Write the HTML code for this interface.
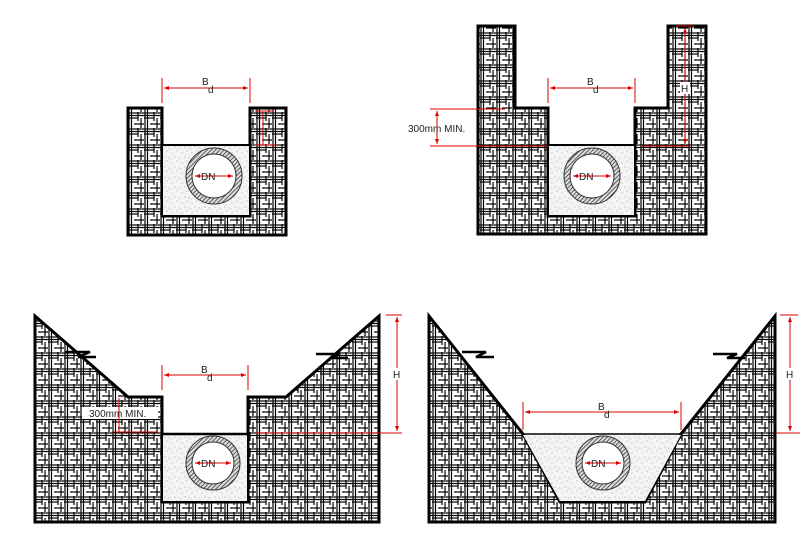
<!DOCTYPE html>
<html><head><meta charset="utf-8"><style>
html,body{margin:0;padding:0;background:#fff;}
svg{display:block;}
text{font-family:"Liberation Sans",sans-serif;font-size:10px;fill:#222;}
</style></head><body>
<svg width="807" height="553" viewBox="0 0 807 553" xmlns="http://www.w3.org/2000/svg">
<defs>
<pattern id="h" width="16" height="16" patternUnits="userSpaceOnUse">
<rect width="16" height="16" fill="#fff"/>
<g stroke="#000" stroke-width="1.2">
<line x1="0" y1="1" x2="16" y2="1"/><line x1="0" y1="3.5" x2="16" y2="3.5"/><line x1="0" y1="6" x2="10" y2="6"/><line x1="6" y1="12" x2="16" y2="12"/>
<line x1="1" y1="0" x2="1" y2="16"/><line x1="3.5" y1="0" x2="3.5" y2="16"/><line x1="10" y1="0" x2="10" y2="9"/><line x1="13" y1="6" x2="13" y2="16"/>
</g>
</pattern>
<pattern id="d" width="10" height="10" patternUnits="userSpaceOnUse">
<rect width="10" height="10" fill="#f4f4f4"/>
<g fill="#888"><circle cx="2" cy="3" r=".5"/><circle cx="7" cy="1" r=".5"/><circle cx="5" cy="7" r=".5"/><circle cx="9" cy="8" r=".5"/><circle cx="1" cy="9" r=".4"/></g>
</pattern>
<pattern id="p" width="3" height="3" patternUnits="userSpaceOnUse" patternTransform="rotate(45)">
<rect width="3" height="3" fill="#ddd"/><line x1="0" y1="0" x2="0" y2="3" stroke="#333" stroke-width="1.5"/>
</pattern>
<marker id="a" markerWidth="6" markerHeight="6" refX="5" refY="3" orient="auto-start-reverse"><path d="M0,1 L5,3 L0,5z" fill="#d00"/></marker>
</defs>

<!-- Diagram 1 -->
<path d="M128,108 H162 V216 H250 V108 H286 V235 H128 Z" fill="url(#h)" stroke="#000" stroke-width="3"/>
<rect x="163" y="146" width="86" height="69" fill="url(#d)"/>
<line x1="162" y1="145" x2="250" y2="145" stroke="#000" stroke-width="2"/>
<circle cx="214" cy="176" r="28" fill="url(#p)" stroke="#333"/>
<circle cx="214" cy="176" r="22" fill="#fff" stroke="#333"/>
<g stroke="#d00" stroke-width="1" fill="none">
<line x1="162" y1="78" x2="162" y2="103"/><line x1="250" y1="78" x2="250" y2="103"/>
<line x1="164" y1="88" x2="248" y2="88" marker-start="url(#a)" marker-end="url(#a)"/>
<line x1="195" y1="176" x2="233" y2="176" marker-start="url(#a)" marker-end="url(#a)"/>
<line x1="255" y1="111" x2="273" y2="111"/><line x1="263" y1="112" x2="263" y2="145"/><line x1="255" y1="145" x2="277" y2="145"/>
</g>
<text x="202" y="85">B</text><text x="208" y="93" font-size="8">d</text>
<text x="201" y="180">DN</text>

<!-- Diagram 2 -->
<path d="M478,26 H515 V108 H548 V216 H635 V108 H668 V26 H706 V234 H478 Z" fill="url(#h)" stroke="#000" stroke-width="3"/>
<rect x="549" y="146" width="85" height="69" fill="url(#d)"/>
<line x1="548" y1="145" x2="635" y2="145" stroke="#000" stroke-width="2"/>
<circle cx="592" cy="176" r="28" fill="url(#p)" stroke="#333"/>
<circle cx="592" cy="176" r="22" fill="#fff" stroke="#333"/>
<g stroke="#d00" stroke-width="1" fill="none">
<line x1="548" y1="78" x2="548" y2="103"/><line x1="635" y1="78" x2="635" y2="103"/>
<line x1="550" y1="88" x2="633" y2="88" marker-start="url(#a)" marker-end="url(#a)"/>
<line x1="573" y1="176" x2="611" y2="176" marker-start="url(#a)" marker-end="url(#a)"/>
<line x1="430" y1="109" x2="505" y2="109"/><line x1="430" y1="146" x2="548" y2="146"/>
<line x1="437" y1="111" x2="437" y2="144" marker-start="url(#a)" marker-end="url(#a)"/>
<line x1="642" y1="146" x2="690" y2="146"/>
<line x1="676" y1="26" x2="694" y2="26"/><line x1="685" y1="28" x2="685" y2="144" marker-start="url(#a)" marker-end="url(#a)"/>
</g>
<rect x="680" y="82" width="10" height="12" fill="#fff"/>
<text x="681" y="92">H</text>
<text x="587" y="85">B</text><text x="593" y="93" font-size="8">d</text>
<text x="579" y="180">DN</text>
<text x="408" y="132">300mm MIN.</text>

<!-- Diagram 3 -->
<path d="M35,316 L128,397 H162 V502 H248 V397 H286 L379,316 V522 H35 Z" fill="url(#h)" stroke="#000" stroke-width="3"/>
<rect x="163" y="435" width="84" height="66" fill="url(#d)"/>
<line x1="162" y1="434" x2="248" y2="434" stroke="#000" stroke-width="2.5"/>
<circle cx="213" cy="463" r="27" fill="url(#p)" stroke="#333"/>
<circle cx="213" cy="463" r="21" fill="#fff" stroke="#333"/>
<g stroke="#000" stroke-width="2.5" fill="none">
<path d="M65,352 H90 L78,357 H96"/><path d="M316,354 H340 L330,358 H348"/>
</g>
<rect x="82" y="407" width="76" height="12" fill="#fff"/>
<g stroke="#d00" stroke-width="1" fill="none">
<line x1="162" y1="365" x2="162" y2="390"/><line x1="248" y1="365" x2="248" y2="390"/>
<line x1="164" y1="375" x2="246" y2="375" marker-start="url(#a)" marker-end="url(#a)"/>
<line x1="195" y1="463" x2="231" y2="463" marker-start="url(#a)" marker-end="url(#a)"/>
<line x1="119" y1="398" x2="119" y2="432"/><line x1="113" y1="432" x2="158" y2="432"/>
<line x1="256" y1="433" x2="380" y2="433"/><line x1="380" y1="433" x2="402" y2="433"/>
<line x1="386" y1="315" x2="402" y2="315"/><line x1="397" y1="317" x2="397" y2="431" marker-start="url(#a)" marker-end="url(#a)"/>
</g>
<rect x="392" y="368" width="10" height="12" fill="#fff"/>
<text x="393" y="378">H</text>
<text x="201" y="373">B</text><text x="207" y="381" font-size="8">d</text>
<text x="201" y="467">DN</text>
<text x="89" y="417">300mm MIN.</text>

<!-- Diagram 4 -->
<path d="M429,316 L523,434 L560,502 H645 L681,434 L775,316 V522 H429 Z" fill="url(#h)" stroke="#000" stroke-width="3"/>
<path d="M523,435 H681 L645,501 H560 Z" fill="url(#d)"/>
<line x1="523" y1="434" x2="681" y2="434" stroke="#000" stroke-width="1.5"/>
<circle cx="603" cy="463" r="27" fill="url(#p)" stroke="#333"/>
<circle cx="603" cy="463" r="21" fill="#fff" stroke="#333"/>
<g stroke="#000" stroke-width="2.5" fill="none">
<path d="M462,352 H486 L476,357 H494"/><path d="M713,354 H737 L727,358 H745"/>
</g>
<g stroke="#d00" stroke-width="1" fill="none">
<line x1="523" y1="402" x2="523" y2="430"/><line x1="681" y1="402" x2="681" y2="430"/>
<line x1="525" y1="412" x2="679" y2="412" marker-start="url(#a)" marker-end="url(#a)"/>
<line x1="585" y1="463" x2="621" y2="463" marker-start="url(#a)" marker-end="url(#a)"/>
<line x1="776" y1="433" x2="800" y2="433"/>
<line x1="780" y1="315" x2="798" y2="315"/><line x1="790" y1="317" x2="790" y2="431" marker-start="url(#a)" marker-end="url(#a)"/>
</g>
<rect x="785" y="368" width="10" height="12" fill="#fff"/>
<text x="786" y="378">H</text>
<text x="598" y="410">B</text><text x="604" y="418" font-size="8">d</text>
<text x="591" y="467">DN</text>
</svg>
</body></html>
